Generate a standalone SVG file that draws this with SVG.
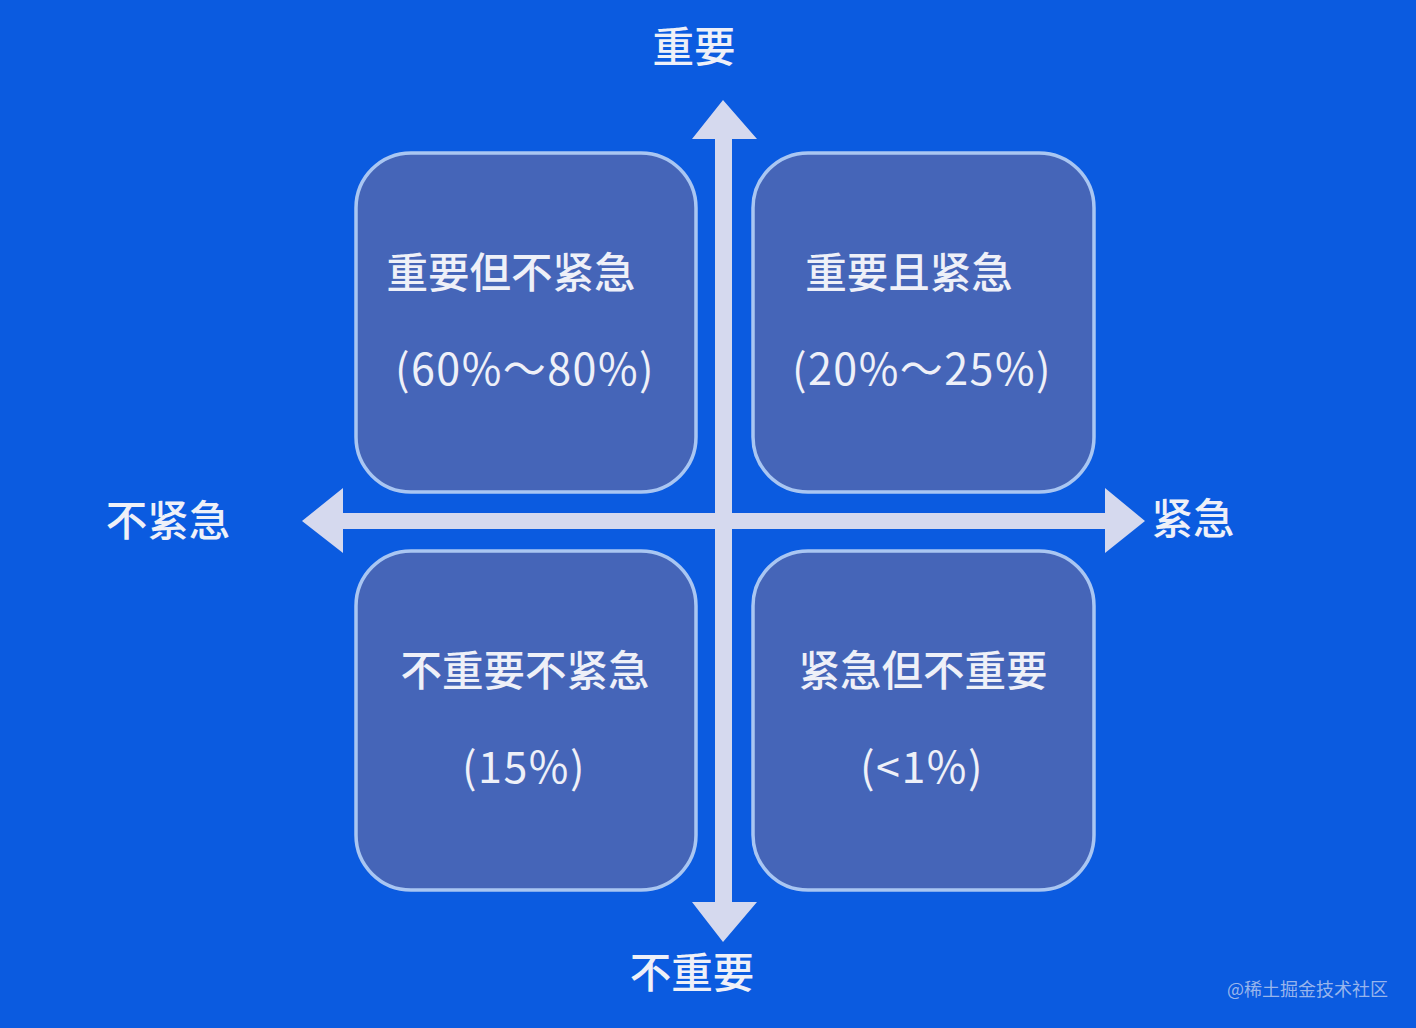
<svg xmlns="http://www.w3.org/2000/svg" width="1416" height="1028" viewBox="0 0 1416 1028">
<style>
.bg{fill:#0b5be0}
.box{fill:#4565b8;stroke:#a9c6f2;stroke-width:3.5}
.t{font-family:"Noto Sans CJK SC","Noto Sans",sans-serif;font-size:41.5px;font-weight:500;fill:#eef0f8;text-anchor:middle;dominant-baseline:central}
.p{font-size:43px;font-weight:400;letter-spacing:1.5px}
.ax{fill:#d5d9ee}
.wm{font-family:"Noto Sans CJK SC","Noto Sans",sans-serif;font-size:18px;fill:#c8d4f0;fill-opacity:0.75;dominant-baseline:central}
</style>
<rect class="bg" x="0" y="0" width="1416" height="1028"/>
<g id="connectors">
<path class="ax" d="M723,100 L757,139 L732,139 L732,902 L757,902 L723,942 L692,902 L715,902 L715,139 L692,139 Z"/>
<path class="ax" d="M302,521 L343,488 L343,513 L1105,513 L1105,488 L1145,521 L1105,553 L1105,529 L343,529 L343,553 Z"/>
</g>
<g id="q1"><rect class="box" x="356" y="153" width="340" height="339" rx="55"/><text class="t" x="511" y="270">重要但不紧急</text><text class="t p" x="525" y="366">(60%～80%)</text></g>
<g id="q2"><rect class="box" x="753" y="153" width="341" height="339" rx="55"/><text class="t" x="909" y="270">重要且紧急</text><text class="t p" x="922" y="366">(20%～25%)</text></g>
<g id="q3"><rect class="box" x="356" y="551" width="340" height="339" rx="55"/><text class="t" x="525" y="668">不重要不紧急</text><text class="t p" x="524" y="764">(15%)</text></g>
<g id="q4"><rect class="box" x="753" y="551" width="341" height="339" rx="55"/><text class="t" x="923" y="668">紧急但不重要</text><text class="t p" x="922" y="764">(&lt;1%)</text></g>
<g id="lbl-top"><text class="t" x="694" y="44">重要</text></g>
<g id="lbl-bottom"><text class="t" x="692" y="970">不重要</text></g>
<g id="lbl-left"><text class="t" x="168" y="518">不紧急</text></g>
<g id="lbl-right"><text class="t" x="1193" y="516">紧急</text></g>
<text class="wm" x="1227" y="988">@稀土掘金技术社区</text>
</svg>
